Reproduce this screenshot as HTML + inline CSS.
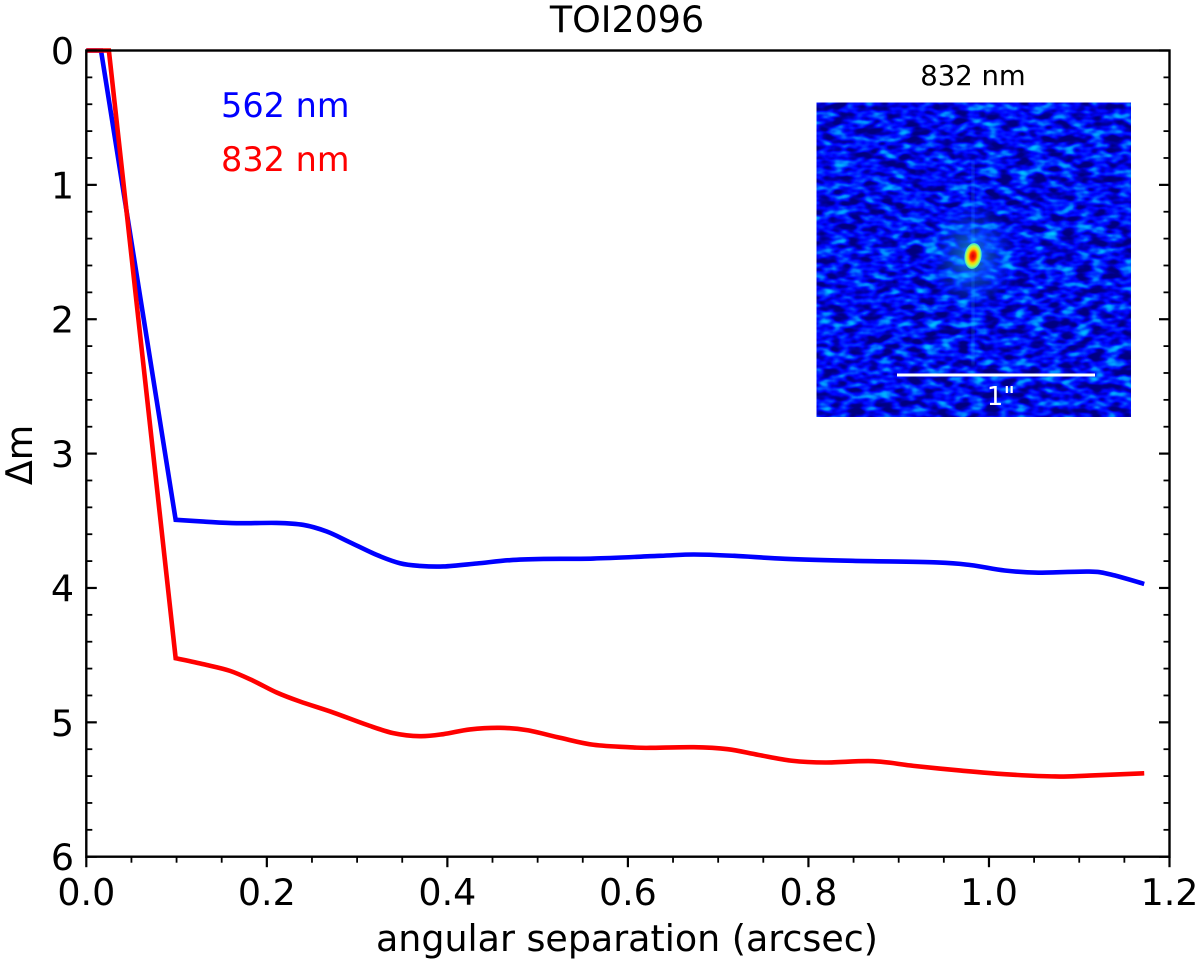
<!DOCTYPE html>
<html>
<head>
<meta charset="utf-8">
<title>TOI2096 contrast curves</title>
<style>
html,body{margin:0;padding:0;background:#fff;}
svg{display:block;}
text{font-family:"DejaVu Sans","Liberation Sans",sans-serif;fill:#000;}
</style>
</head>
<body>
<svg id="chart" xmlns="http://www.w3.org/2000/svg" width="1200" height="966" viewBox="0 0 1200 966">
  <defs>
    <filter id="speckle" x="0" y="0" width="100%" height="100%" color-interpolation-filters="sRGB">
      <feTurbulence type="fractalNoise" baseFrequency="0.066 0.125" numOctaves="2" seed="7"/>
      <feColorMatrix type="matrix" values="1 0 0 0 0  1 0 0 0 0  1 0 0 0 0  0 0 0 0 1"/>
      <feComponentTransfer>
        <feFuncR type="table" tableValues="0 0"/>
        <feFuncG type="table" tableValues="0 0 0 0 0 0.02 0.2 0.48 0.68 0.82 0.9"/>
        <feFuncB type="table" tableValues="0.5 0.5 0.5 0.52 0.72 1 1 1 1 1 1"/>
      </feComponentTransfer>
    </filter>
    <radialGradient id="glow">
      <stop offset="0" stop-color="#25d8ff" stop-opacity="0.6"/>
      <stop offset="0.55" stop-color="#10a0ff" stop-opacity="0.25"/>
      <stop offset="1" stop-color="#0060ff" stop-opacity="0"/>
    </radialGradient>
    <radialGradient id="core">
      <stop offset="0" stop-color="#d00000"/>
      <stop offset="0.3" stop-color="#ff2000"/>
      <stop offset="0.55" stop-color="#ffd000"/>
      <stop offset="0.78" stop-color="#b0ff50"/>
      <stop offset="1" stop-color="#30e0e0"/>
    </radialGradient>
    <filter id="soft"><feGaussianBlur stdDeviation="1.2"/></filter>
  </defs>

  <rect x="0" y="0" width="1200" height="966" fill="#fff"/>

  <g id="inset">
    <rect x="816.5" y="102.5" width="314.5" height="314.5" fill="#0030d0" filter="url(#speckle)"/>
    <ellipse cx="972" cy="256" rx="44" ry="56" fill="url(#glow)"/>
    <rect x="971.5" y="160" width="3" height="205" fill="#20a0ff" opacity="0.25" filter="url(#soft)"/>
    <ellipse cx="973" cy="256" rx="8.5" ry="13" fill="url(#core)" transform="rotate(8 973 256)"/>
    <rect x="897" y="373.5" width="198" height="3" fill="#fff"/>
    <text x="1001" y="405" font-size="26" text-anchor="middle" style="fill:#fff">1"</text>
    <text x="973" y="85" font-size="27.5" text-anchor="middle">832 nm</text>
  </g>

  <g id="series"></g>
  <g id="axes"></g>

  <text x="627" y="32" font-size="36.4" text-anchor="middle">TOI2096</text>
  <text x="221" y="117" font-size="33.5" style="fill:#0000ff">562 nm</text>
  <text x="221" y="171" font-size="33.5" style="fill:#ff0000">832 nm</text>
  <text x="627" y="951" font-size="36.4" text-anchor="middle">angular separation (arcsec)</text>
  <text x="32" y="455" font-size="36.4" text-anchor="middle" transform="rotate(-90 32 455)">Δm</text>
</svg>
<script>
const xMajorTicks = [0, 0.2, 0.4, 0.6, 0.8, 1.0, 1.2];
const xTickLabels = ['0.0', '0.2', '0.4', '0.6', '0.8', '1.0', '1.2'];
const xMinorTicks = [0.05, 0.1, 0.15, 0.25, 0.3, 0.35, 0.45, 0.5, 0.55, 0.65, 0.7, 0.75, 0.85, 0.9, 0.95, 1.05, 1.1, 1.15];
const yMajorTicks = [0, 1, 2, 3, 4, 5, 6];
const yTickLabels = ['0', '1', '2', '3', '4', '5', '6'];
const yMinorTicks = [0.2, 0.4, 0.6, 0.8, 1.2, 1.4, 1.6, 1.8, 2.2, 2.4, 2.6, 2.8, 3.2, 3.4, 3.6, 3.8, 4.2, 4.4, 4.6, 4.8, 5.2, 5.4, 5.6, 5.8];

const blueSep = [0, 0.0163, 0.099, 0.13, 0.1666, 0.2109, 0.2407, 0.2664, 0.292, 0.3217, 0.3475, 0.3697, 0.3955, 0.4325, 0.4694, 0.5063, 0.5617, 0.6354, 0.6731, 0.718, 0.7742, 0.849, 0.9425, 0.98, 1.0174, 1.0547, 1.1111, 1.135, 1.172];
const blueMag = [0, 0, 3.493, 3.506, 3.518, 3.516, 3.531, 3.58, 3.66, 3.754, 3.816, 3.836, 3.84, 3.818, 3.793, 3.784, 3.781, 3.761, 3.751, 3.761, 3.783, 3.798, 3.81, 3.83, 3.87, 3.886, 3.878, 3.9, 3.97];
const redSep = [0, 0.025, 0.099, 0.13, 0.1592, 0.185, 0.2109, 0.2367, 0.2736, 0.3106, 0.34, 0.3697, 0.3955, 0.4251, 0.4583, 0.4879, 0.5248, 0.5617, 0.606, 0.6245, 0.6731, 0.7105, 0.7443, 0.7817, 0.8191, 0.8715, 0.9164, 0.9688, 1.0174, 1.0736, 1.1111, 1.172];
const redMag = [0, 0, 4.523, 4.568, 4.617, 4.691, 4.778, 4.845, 4.927, 5.018, 5.08, 5.103, 5.088, 5.053, 5.041, 5.058, 5.115, 5.167, 5.187, 5.19, 5.185, 5.2, 5.242, 5.286, 5.299, 5.289, 5.324, 5.359, 5.386, 5.403, 5.396, 5.379];

const NS = 'http://www.w3.org/2000/svg';
const plotLeft = 86.3, plotRight = 1169.5, plotTop = 50.5, plotBottom = 856.7;
const xMax = 1.2, yMax = 6;
const kneeIndex = 2;
function xPos(v) { return plotLeft + (v / xMax) * (plotRight - plotLeft); }
function yPos(v) { return plotTop + (v / yMax) * (plotBottom - plotTop); }

function tickLine(parent, x1, y1, x2, y2, w) {
  const l = document.createElementNS(NS, 'line');
  l.setAttribute('x1', x1);
  l.setAttribute('y1', y1);
  l.setAttribute('x2', x2);
  l.setAttribute('y2', y2);
  l.setAttribute('stroke', '#000');
  l.setAttribute('stroke-width', w);
  parent.appendChild(l);
  return l;
}

const seriesGroup = document.getElementById('series');
function drawSeries(xs, ys, color) {
  const pts = xs.map(function (x, i) { return [xPos(x), yPos(ys[i])]; });
  let d = 'M' + pts[0][0].toFixed(2) + ' ' + pts[0][1].toFixed(2);
  for (let i = 1; i <= kneeIndex; i++) {
    d += ' L' + pts[i][0].toFixed(2) + ' ' + pts[i][1].toFixed(2);
  }
  for (let i = kneeIndex; i < pts.length - 1; i++) {
    const p0 = pts[Math.max(i - 1, kneeIndex)], p1 = pts[i], p2 = pts[i + 1], p3 = pts[Math.min(i + 2, pts.length - 1)];
    const c1x = p1[0] + (p2[0] - p0[0]) / 6, c1y = p1[1] + (p2[1] - p0[1]) / 6;
    const c2x = p2[0] - (p3[0] - p1[0]) / 6, c2y = p2[1] - (p3[1] - p1[1]) / 6;
    d += ' C' + c1x.toFixed(2) + ' ' + c1y.toFixed(2) + ' ' + c2x.toFixed(2) + ' ' + c2y.toFixed(2) + ' ' + p2[0].toFixed(2) + ' ' + p2[1].toFixed(2);
  }
  const p = document.createElementNS(NS, 'path');
  p.setAttribute('d', d);
  p.setAttribute('fill', 'none');
  p.setAttribute('stroke', color);
  p.setAttribute('stroke-width', '4.6');
  p.setAttribute('stroke-linejoin', 'miter');
  seriesGroup.appendChild(p);
  return p;
}
const blueLine = drawSeries(blueSep, blueMag, '#0000ff');


const redLine = drawSeries(redSep, redMag, '#ff0000');



const axes = document.getElementById('axes');
const frame = document.createElementNS(NS, 'rect');
frame.setAttribute('x', plotLeft);
frame.setAttribute('y', plotTop);
frame.setAttribute('width', plotRight - plotLeft);
frame.setAttribute('height', plotBottom - plotTop);
frame.setAttribute('fill', 'none');
frame.setAttribute('stroke', '#000');
frame.setAttribute('stroke-width', '2.4');


axes.appendChild(frame);

xMajorTicks.forEach(function (v, i) {
  const t = tickLine(axes, xPos(v), plotBottom, xPos(v), plotBottom + 10.5, 2.2);
  
  
  const label = document.createElementNS(NS, 'text');
  label.setAttribute('x', xPos(v));
  label.setAttribute('y', 905);
  label.setAttribute('font-size', '36.4');
  label.setAttribute('text-anchor', 'middle');
  
  
  label.textContent = xTickLabels[i];
  axes.appendChild(label);
});
xMinorTicks.forEach(function (v) {
  const t = tickLine(axes, xPos(v), plotBottom, xPos(v), plotBottom + 6, 1.8);
  
  
});
yMajorTicks.forEach(function (v, i) {
  const a = tickLine(axes, plotLeft, yPos(v), plotLeft + 10.5, yPos(v), 2.2);
  
  
  const b = tickLine(axes, plotRight, yPos(v), plotRight - 10.5, yPos(v), 2.2);
  
  
  const label = document.createElementNS(NS, 'text');
  label.setAttribute('x', 74);
  label.setAttribute('y', yPos(v) + 13.5);
  label.setAttribute('font-size', '36.4');
  label.setAttribute('text-anchor', 'end');
  
  
  label.textContent = yTickLabels[i];
  axes.appendChild(label);
});
yMinorTicks.forEach(function (v) {
  const a = tickLine(axes, plotLeft, yPos(v), plotLeft + 6, yPos(v), 1.8);
  
  
  const b = tickLine(axes, plotRight, yPos(v), plotRight - 6, yPos(v), 1.8);
  
  
});
</script>
</body>
</html>
